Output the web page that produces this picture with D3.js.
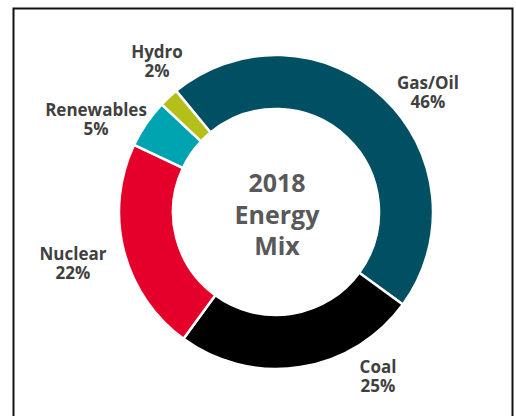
<!DOCTYPE html>
<html><head><meta charset="utf-8">
<script src="https://cdn.jsdelivr.net/npm/d3@7"></script>
<style>html,body{margin:0;padding:0;background:#fff;}svg{display:block;}</style>
</head><body>
<svg id="c" width="516" height="416"></svg>
<script>
const categories = ["Gas/Oil", "Coal", "Nuclear", "Renewables", "Hydro"];
const values = [46, 25, 22, 5, 2];
const colors = ["#004f62", "#000000", "#e4002b", "#00a3b0", "#b4bf1a"];
const titleLines = ["2018", "Energy", "Mix"];
// label anchor positions (layout, pixels): centre x, first baseline y
const labelPos = [[428, 89], [378, 373], [73, 260], [96, 116], [157, 58]];

const svg = d3.select("#c");
svg.append("rect").attr("x", 13.5).attr("y", 8.5).attr("width", 499).attr("height", 420)
  .attr("fill", "#fff").attr("stroke", "#111").attr("stroke-width", 2);

const cx = 276, cy = 212, rOuter = 157, rInner = 103;
const start = -39.5 * Math.PI / 180;
const pie = d3.pie().sort(null).value(d => d).startAngle(start).endAngle(start + 2 * Math.PI);
const arc = d3.arc().innerRadius(rInner).outerRadius(rOuter);
const g = svg.append("g").attr("transform", `translate(${cx},${cy})`);
g.selectAll("path").data(pie(values)).join("path")
  .attr("d", arc).attr("fill", (d, i) => colors[i])
  .attr("stroke", "#fff").attr("stroke-width", 2.5).attr("stroke-linejoin", "miter");

const font = "'Open Sans', sans-serif";
categories.forEach((c, i) => {
  const [x, y] = labelPos[i];
  const lg = svg.append("g").attr("font-family", font).attr("font-weight", 700)
    .attr("font-size", 17).attr("fill", "#404040").attr("text-anchor", "middle");
  lg.append("text").attr("x", x).attr("y", y).text(c);
  lg.append("text").attr("x", x).attr("y", y + 19).text(values[i] + "%");
});

const tg = svg.append("g").attr("text-anchor", "middle").attr("font-family", font)
  .attr("font-weight", 700).attr("font-size", 25).attr("fill", "#595959");
const titleY = [192, 224, 255];
titleLines.forEach((l, i) => {
  tg.append("text").attr("x", cx + 1).attr("y", titleY[i]).text(l);
});
</script>
</body></html>
